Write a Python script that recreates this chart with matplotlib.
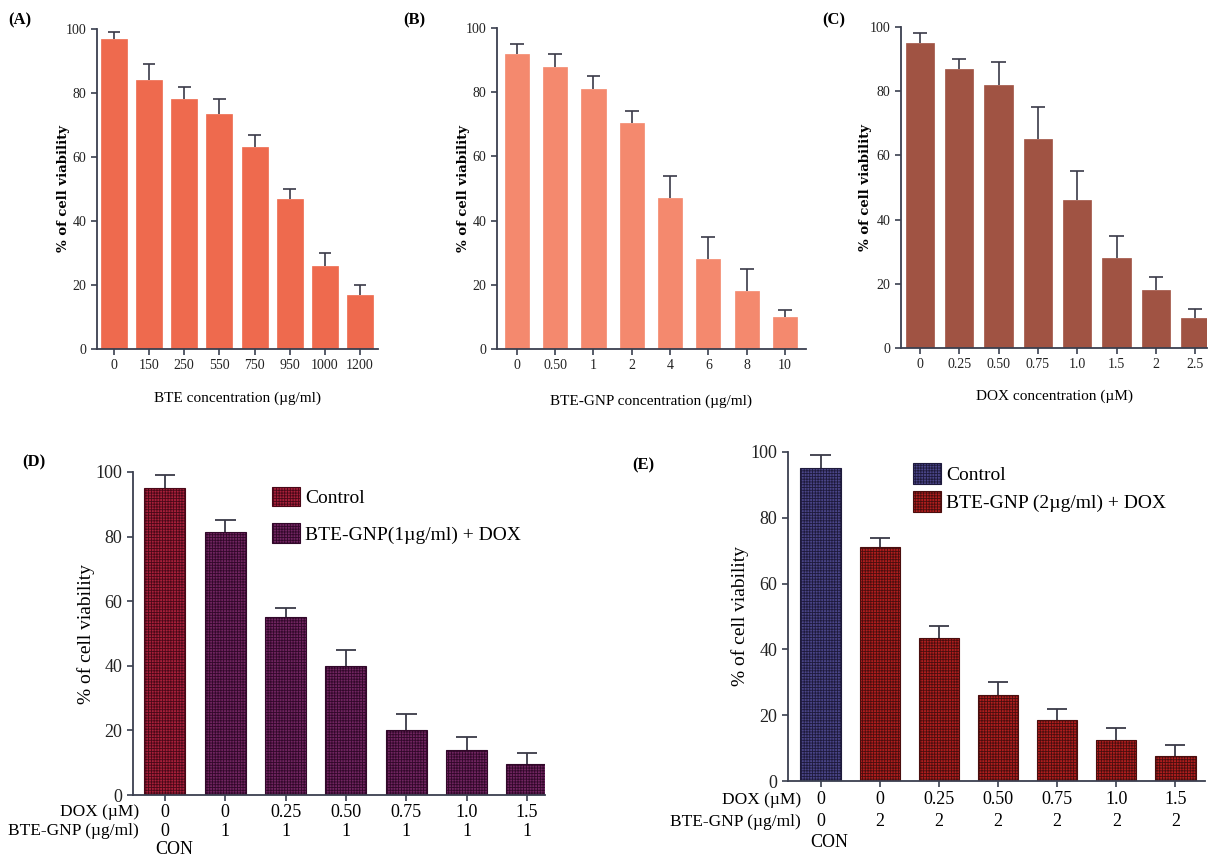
import matplotlib.pyplot as plt
import numpy as np

# panel A - BTE
bte_conc = ['0', '150', '250', '550', '750', '950', '1000', '1200']
bte_mean = [97, 84, 78, 73.5, 63, 47, 26, 17]
bte_err = [2, 5, 4, 4.5, 4, 3, 4, 3]

# panel B - BTE-GNP
gnp_conc = ['0', '0.50', '1', '2', '4', '6', '8', '10']
gnp_mean = [92, 88, 81, 70.5, 47, 28, 18, 10]
gnp_err = [3, 4, 4, 3.5, 7, 7, 7, 2]

# panel C - DOX
dox_conc = ['0', '0.25', '0.50', '0.75', '1.0', '1.5', '2', '2.5']
dox_mean = [95, 87, 82, 65, 46, 28, 18, 9.5]
dox_err = [3, 3, 7, 10, 9, 7, 4, 2.5]

# panel D - BTE-GNP 1 ug/ml + DOX
d_dox = ['0', '0', '0.25', '0.50', '0.75', '1.0', '1.5']
d_gnp = ['0', '1', '1', '1', '1', '1', '1']
d_mean = [95, 81.5, 55, 40, 20, 14, 9.5]
d_err = [4, 3.5, 3, 5, 5, 4, 3.5]

# panel E - BTE-GNP 2 ug/ml + DOX
e_dox = ['0', '0', '0.25', '0.50', '0.75', '1.0', '1.5']
e_gnp = ['0', '2', '2', '2', '2', '2', '2']
e_mean = [95, 71, 43.5, 26, 18.5, 12.5, 7.5]
e_err = [4, 3, 3.5, 4, 3.5, 3.5, 3.5]

W, H = 1208, 860
plt.rcParams['font.family'] = ['Liberation Serif', 'DejaVu Serif']
plt.rcParams['hatch.linewidth'] = 0.6
AXC = '#3a3f4f'
ERRC = '#3a3a48'

fig = plt.figure(figsize=(W / 100, H / 100), dpi=100)


def px_axes(l, t, r, b):
    ax = fig.add_axes([l / W, 1 - b / H, (r - l) / W, (b - t) / H])
    for s in ['top', 'right']:
        ax.spines[s].set_visible(False)
    for s in ['left', 'bottom']:
        ax.spines[s].set_color(AXC)
        ax.spines[s].set_linewidth(1.3)
    ax.tick_params(colors='#222222', width=1.2, length=4)
    ax.tick_params(axis='both', color=AXC)
    ax.set_ylim(0, 100)
    ax.set_yticks(range(0, 101, 20))
    return ax


def upper_errors(ax, x, mean, err, cap, lw):
    top = np.array(mean) + np.array(err)
    ax.vlines(x, mean, top, colors=ERRC, linewidth=lw, zorder=1)
    ax.hlines(top, x - cap, x + cap, colors=ERRC, linewidth=lw, zorder=1)


def simple_panel(ax, labels, mean, err, color, width, xlim, xlabel, lpad, lab_x):
    x = np.arange(len(labels))
    ax.bar(x, mean, width=width, color=color, edgecolor=color, linewidth=0.5, zorder=2)
    upper_errors(ax, x, mean, err, 0.18, 1.2)
    ax.set_xticks(x)
    ax.set_xticklabels(labels, fontsize=10)
    ax.tick_params(axis='y', labelsize=10)
    ax.set_xlim(*xlim)
    ax.set_xlabel(xlabel, fontsize=11, labelpad=lpad)
    ax.set_ylabel('% of cell viability', fontsize=9.5, fontweight='bold',
                  family='DejaVu Serif')
    ax.yaxis.set_label_coords(lab_x, 0.5)


axA = px_axes(97, 29, 378, 349)
simple_panel(axA, bte_conc, bte_mean, bte_err, '#ee6a4e', 0.74, (-0.48, 7.51),
             'BTE concentration (\u00b5g/ml)', 14, -0.096)
axB = px_axes(497, 28, 806, 349)
simple_panel(axB, gnp_conc, gnp_mean, gnp_err, '#f4896e', 0.63, (-0.52, 7.55),
             'BTE-GNP concentration (\u00b5g/ml)', 16, -0.087)
axC = px_axes(901, 27, 1207, 348)
simple_panel(axC, dox_conc, dox_mean, dox_err, '#a05343', 0.72, (-0.48, 7.3),
             'DOX concentration (\u00b5M)', 13, -0.095)


def combo_panel(ax, dox, gnp, mean, err, c_ctrl, c_trt, xlim, legend_labels,
                row_x, offs, legend_pos, lab_x, hh, lsp):
    x = np.arange(len(dox))
    colors = [c_ctrl[0]] + [c_trt[0]] * (len(x) - 1)
    edges = [c_ctrl[1]] + [c_trt[1]] * (len(x) - 1)
    bars = ax.bar(x, mean, width=0.68, color=colors, edgecolor=edges,
                  linewidth=0.8, hatch='++++++', zorder=2)
    upper_errors(ax, x, mean, err, 0.17, 1.3)
    ax.set_xlim(*xlim)
    ax.set_xticks(x)
    ax.set_xticklabels([])
    ax.tick_params(axis='y', labelsize=13)
    ax.set_ylabel('% of cell viability', fontsize=14)
    ax.yaxis.set_label_coords(lab_x, 0.5)
    rows = [dox, gnp]
    for r, vals in enumerate(rows):
        for i, v in enumerate(vals):
            ax.annotate(v, xy=(i, 0), xycoords=('data', 'axes fraction'),
                        xytext=(0, -offs[r]), textcoords='offset points',
                        ha='center', va='center', fontsize=13, annotation_clip=False)
    ax.annotate('CON', xy=(0.15, 0), xycoords=('data', 'axes fraction'),
                xytext=(0, -offs[2]), textcoords='offset points',
                ha='center', va='center', fontsize=13, annotation_clip=False)
    for r, name in enumerate(['DOX (\u00b5M)', 'BTE-GNP (\u00b5g/ml)']):
        ax.annotate(name, xy=(row_x, 0), xycoords=('data', 'axes fraction'),
                    xytext=(0, -offs[r]), textcoords='offset points',
                    ha='right', va='center', fontsize=12.5, annotation_clip=False)
    ax.legend([bars[0], bars[1]], legend_labels, loc='upper left',
              bbox_to_anchor=legend_pos, frameon=False, fontsize=14,
              handlelength=1.45, handleheight=hh, handletextpad=0.25,
              labelspacing=lsp, borderaxespad=0, borderpad=0)


axD = px_axes(133, 472, 545, 795)
combo_panel(axD, d_dox, d_gnp, d_mean, d_err, ('#a8203a', '#4a0818'),
            ('#702560', '#32082a'), (-0.53, 6.3),
            ['Control', 'BTE-GNP(1\u00b5g/ml) + DOX'], -0.43, (12.5, 26, 39.5),
            (0.337, 0.955), -0.092, 1.15, 0.85)

axE = px_axes(788, 452, 1205, 781)
combo_panel(axE, e_dox, e_gnp, e_mean, e_err, ('#4a4588', '#1e1a3c'),
            ('#b01e1e', '#4a0e0e'), (-0.55, 6.5),
            ['Control', 'BTE-GNP (2\u00b5g/ml) + DOX'], -0.33, (13.5, 29.5, 44),
            (0.30, 0.967), -0.094, 1.3, 0.35)

for txt, xp, yp in [('(A)', 8, 20), ('(B)', 403, 20), ('(C)', 822, 20),
                    ('(D)', 22, 462), ('(E)', 632, 465)]:
    fig.text(xp / W, 1 - yp / H, txt, fontsize=12, fontweight='bold',
             ha='left', va='center')

fig.savefig('out.png', dpi=100, facecolor='white')
